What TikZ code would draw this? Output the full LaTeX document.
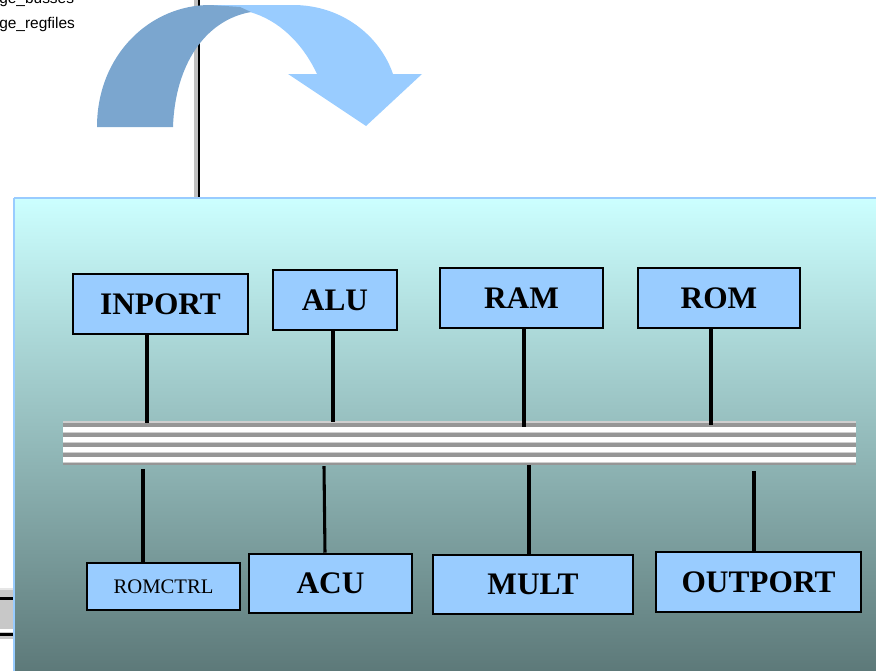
\documentclass[tikz,border=0pt]{standalone}
\usepackage{fontspec}
\setmainfont{Liberation Serif}
\newfontfamily\uisans{Liberation Sans}
\definecolor{boxblue}{HTML}{99CCFF}
\definecolor{arrowdark}{HTML}{7BA6CF}
\definecolor{arrowlight}{HTML}{99CCFF}
\definecolor{paneltop}{HTML}{CCFFFF}
\definecolor{panelbot}{HTML}{5C7878}
\definecolor{busgray}{HTML}{969696}
\definecolor{busedge}{HTML}{CFCFCF}
\definecolor{splitgray}{HTML}{C0C0C0}
\definecolor{widgetgray}{HTML}{C8C8C8}
\definecolor{widgetlight}{HTML}{E6E6E6}
\tikzset{
  unit/.style={draw=black, line width=1.9pt, fill=boxblue, inner sep=0pt, font=\bfseries\fontsize{23.5}{26}\selectfont},
  smallunit/.style={unit, font=\fontsize{15.5}{18}\selectfont},
  link/.style={draw=black, line width=2.3pt},
  wintext/.style={anchor=base west, inner sep=0pt, font=\uisans\fontsize{11.6}{13}\selectfont},
}
\begin{document}
\begin{tikzpicture}[x=0.75pt,y=-0.75pt]
\useasboundingbox (0,0) rectangle (876,671);
\begin{scope}
\clip (0,0) rectangle (876,671);
% background window text
\node[wintext] (t1) at (-1,3) {ge\_busses};
\node[wintext] (t2) at (-1,28) {ge\_regfiles};
% vertical splitter
\fill[splitgray] (194,0) rectangle (198,199);
\fill[black] (198,0) rectangle (200,199);
% curved arrow
\fill[arrowlight] (207,5) -- (293,5) .. controls (342,5) and (380,36) .. (393,74) -- (422,74) -- (366,126) -- (288,74) -- (317,74) .. controls (302,42) and (278,20) .. (250,12) -- cycle;
\fill[arrowdark] (97,127) .. controls (97,55) and (150,5) .. (210,5) -- (240,7) -- (251,12) .. controls (205,20) and (175,65) .. (173,127) -- cycle;
% bottom-left widget
\fill[widgetgray] (0,588) rectangle (14,639);
\fill[widgetlight] (0,588) rectangle (14,590);
\fill[black] (0,597) rectangle (14,600);
\fill[white] (0,629) rectangle (14,632);
\fill[black] (0,633) rectangle (14,636);
% panel
\shade[top color=paneltop, bottom color=panelbot] (14,198) rectangle (880,675);
\draw[boxblue, line width=2.2pt] (14,198) -- (880,198);
\draw[boxblue, line width=2.2pt] (14,198) -- (14,675);
% bus
\node[fill=busgray, inner sep=0pt, minimum width=594.75pt, minimum height=32.25pt] (bus) at (459.5,443) {};
\foreach \y in {427,437,447,457}{
  \fill[busedge] (63,\y-0.5) rectangle (856,\y+5.5);
  \fill[white] (63,\y) rectangle (856,\y+5);
}
\fill[busedge] (63,421) rectangle (856,422.5);
% units
\node[unit, minimum width=131.25pt, minimum height=45pt] (inport) at (160.5,304) {INPORT};
\node[unit, minimum width=93pt, minimum height=45pt] (alu) at (335,300) {ALU};
\node[unit, minimum width=122.25pt, minimum height=45pt] (ram) at (521.5,298) {RAM};
\node[unit, minimum width=121.5pt, minimum height=45pt] (rom) at (719,298) {ROM};
\node[smallunit, minimum width=114.75pt, minimum height=35.25pt] (romctrl) at (163.5,586.5) {ROMCTRL};
\node[unit, minimum width=122.25pt, minimum height=44.25pt] (acu) at (330.5,583.5) {ACU};
\node[unit, minimum width=150pt, minimum height=44.25pt] (mult) at (533,584.5) {MULT};
\node[unit, minimum width=153.75pt, minimum height=45pt] (outport) at (758.5,582) {OUTPORT};
% links
\draw[link] (inport.south -| 147,0) -- ([yshift=-1.5pt]bus.north -| 147,0);
\draw[link] (alu.south -| 333,0) -- ([yshift=-0.5pt]bus.north -| 333,0);
\draw[link] (ram.south -| 524,0) -- ([yshift=-4.5pt]bus.north -| 524,0);
\draw[link] (rom.south -| 711,0) -- ([yshift=-3pt]bus.north -| 711,0);
\draw[link] ([yshift=-3pt]bus.south -| 143,0) -- (romctrl.north -| 143,0);
\draw[link] ([yshift=-1pt]bus.south -| 324,0) -- (acu.north -| 325,0);
\draw[link] (bus.south -| 529,0) -- (mult.north -| 529,0);
\draw[link] ([yshift=-4.5pt]bus.south -| 754,0) -- (outport.north -| 754,0);
\end{scope}
\end{tikzpicture}
\end{document}
